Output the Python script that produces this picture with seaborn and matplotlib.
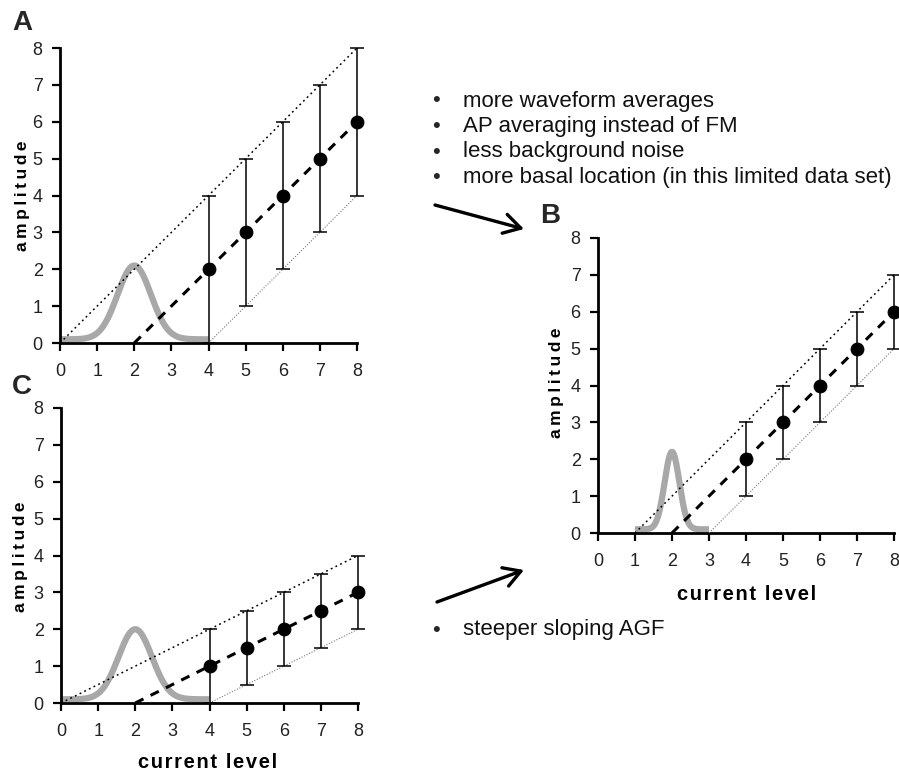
import numpy as np
import pandas as pd
import matplotlib
matplotlib.use("Agg")
import matplotlib.pyplot as plt
from matplotlib.patches import FancyArrowPatch
import seaborn as sns

# ---- data ----
levels = [4, 5, 6, 7, 8]

amp_A = [2, 3, 4, 5, 6]
err_A = [2, 2, 2, 2, 2]
amp_B = [2, 3, 4, 5, 6]
err_B = [1, 1, 1, 1, 1]
amp_C = [1, 1.5, 2, 2.5, 3]
err_C = [1, 1, 1, 1, 1]

# fitted line (dashed) and envelope lines (dotted): [x0, x1], [y0, y1]
fit_A = ([2, 8], [0, 6])
upper_A = ([0, 8], [0, 8])
lower_A = ([4, 8], [0, 4])
fit_B = ([2, 8], [0, 6])
upper_B = ([1, 8], [0, 7])
lower_B = ([3, 8], [0, 5])
fit_C = ([2, 8], [0, 3])
upper_C = ([0, 8], [0, 4])
lower_C = ([4, 8], [0, 2])

# threshold distribution (grey bell): centre, peak, width, range
bell_A = dict(center=2, peak=2.0, width=0.45, lo=0, hi=4)
bell_B = dict(center=2, peak=2.1, width=0.2, lo=1, hi=3)
bell_C = dict(center=2, peak=1.9, width=0.45, lo=0, hi=4)

bullets_top = ["more waveform averages",
               "AP averaging instead of FM",
               "less background noise",
               "more basal location (in this limited data set)"]
bullets_bottom = ["steeper sloping AGF"]

ticks = [0, 1, 2, 3, 4, 5, 6, 7, 8]

sns.set_style("ticks")
plt.rcParams['font.family'] = ['Liberation Sans', 'DejaVu Sans']

W, H = 899, 774
fig = plt.figure(figsize=(W / 100, H / 100), dpi=100)


def px(x, y):
    return x / W, 1 - y / H


def spaced(s, sep):
    return sep.join(s)


def draw_panel(rect, amp, err, fit, upper, lower, bell):
    ax = fig.add_axes(rect)
    # grey bell
    xs = np.linspace(bell['lo'], bell['hi'], 200)
    ys = 0.1 + bell['peak'] * np.exp(-(xs - bell['center']) ** 2 / (2 * bell['width'] ** 2))
    ax.plot(xs, ys, color='#a8a8a8', lw=4.5, solid_capstyle='butt', zorder=2, clip_on=False)
    # envelope + fit lines
    ax.plot(upper[0], upper[1], color='black', lw=1.1, ls=(0, (1.2, 2.2)), zorder=3, clip_on=False)
    ax.plot(lower[0], lower[1], color='#777777', lw=0.8, ls=(0, (1, 1.5)), zorder=3, clip_on=False)
    ax.plot(fit[0], fit[1], color='black', lw=2.2, ls=(0, (3, 2.6)), zorder=4, clip_on=False)
    # error bars + points
    ax.errorbar(levels, amp, yerr=err, fmt='none', ecolor='black', elinewidth=1.1,
                capsize=5, capthick=1.1, zorder=5, clip_on=False)
    df = pd.DataFrame({'level': levels, 'amp': amp})
    sns.scatterplot(data=df, x='level', y='amp', color='black', s=85, edgecolor='black',
                    ax=ax, zorder=6, clip_on=False)
    ax.set_xlim(0, 8)
    ax.set_ylim(0, 8)
    ax.set_xticks(ticks)
    ax.set_yticks(ticks)
    ax.set_xlabel('')
    ax.set_ylabel('')
    for side in ['top', 'right']:
        ax.spines[side].set_visible(False)
    for side in ['left', 'bottom']:
        ax.spines[side].set_linewidth(2)
        ax.spines[side].set_color('black')
    ax.tick_params(axis='both', length=5.5, width=1.6, color='black', labelsize=13,
                   labelcolor='#222222')
    ax.tick_params(axis='x', pad=9)
    ax.tick_params(axis='y', pad=7)
    ax.set_facecolor('none')
    return ax


# axes rectangles from pixel positions of spines
axA = draw_panel([60 / W, 1 - 343 / H, 297 / W, 295 / H], amp_A, err_A, fit_A, upper_A, lower_A, bell_A)
axB = draw_panel([598 / W, 1 - 533 / H, 296 / W, 295 / H], amp_B, err_B, fit_B, upper_B, lower_B, bell_B)
axC = draw_panel([61 / W, 1 - 703 / H, 297 / W, 295 / H], amp_C, err_C, fit_C, upper_C, lower_C, bell_C)

ylab = dict(fontsize=12.5, fontweight='bold', color='black', rotation=90,
            ha='center', va='center')
xlab = dict(fontsize=14.5, fontweight='bold', color='black', ha='center', va='center')
amp_txt = spaced("amplitude", "\u2009")
cur_txt = spaced("current level", "\u200a")
axA.text(-0.125, 0.5, amp_txt, transform=axA.transAxes, **ylab)
axB.text(-0.139, 0.51, amp_txt, transform=axB.transAxes, **ylab)
axC.text(-0.138, 0.495, amp_txt, transform=axC.transAxes, **ylab)
axB.text(0.503, -0.21, cur_txt, transform=axB.transAxes, **xlab)
axC.text(0.495, -0.203, cur_txt, transform=axC.transAxes, **xlab)

# panel letters
for letter, (x, y) in zip("ABC", [(12, 23), (540, 216), (12, 387)]):
    fig.text(*px(x, y), letter, fontsize=20, fontweight='bold', ha='left', va='center')

# bullet lists
for i, line in enumerate(bullets_top):
    y = 101 + i * 25.5
    fig.text(*px(436, y), "•", fontsize=16, ha='center', va='center')
    fig.text(*px(463, y), line, fontsize=16, ha='left', va='center', color='#111111')
for line in bullets_bottom:
    fig.text(*px(436, 630), "•", fontsize=16, ha='center', va='center')
    fig.text(*px(463, 630), line, fontsize=16, ha='left', va='center', color='#111111')

# arrows
arrow = dict(arrowstyle='->,head_length=0.6,head_width=0.35', lw=2.4, color='black',
             mutation_scale=20, shrinkA=0, shrinkB=0)
fig.add_artist(FancyArrowPatch(px(435, 205), px(524, 229), transform=fig.transFigure, **arrow))
fig.add_artist(FancyArrowPatch(px(437, 602), px(524, 570), transform=fig.transFigure, **arrow))

fig.savefig("out.png", dpi=100)
